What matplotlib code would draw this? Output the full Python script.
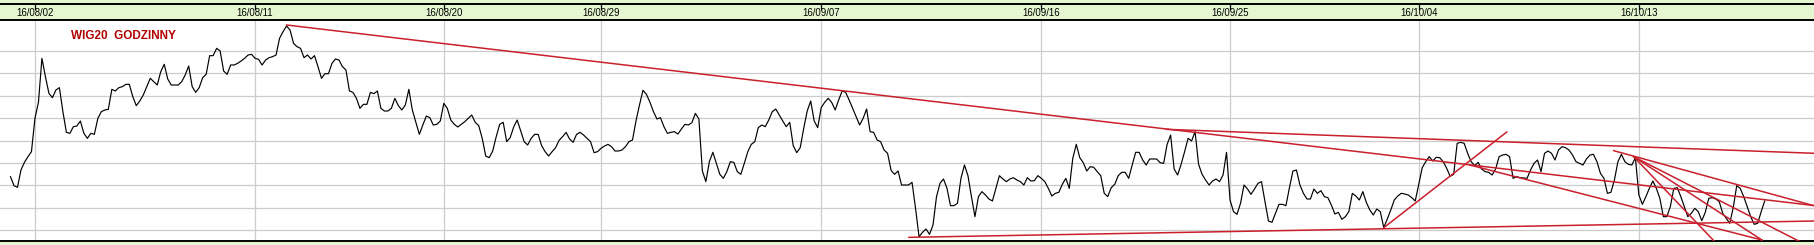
import numpy as np
import matplotlib.pyplot as plt
from matplotlib.lines import Line2D

plt.rcParams['font.family'] = ['Liberation Sans', 'DejaVu Sans']

# hourly WIG20 closes, chart units (one value per hourly bar, 9 bars per session)
wig20 = [
    193, 166, 161, 213, 236, 253, 268, 368, 416, 548,
    493, 443, 430, 453, 460, 388, 326, 323, 343, 345,
    360, 323, 308, 323, 320, 368, 388, 393, 395, 455,
    450, 460, 463, 470, 470, 433, 406, 420, 438, 463,
    488, 478, 468, 508, 530, 486, 468, 468, 468, 478,
    498, 525, 463, 446, 460, 490, 500, 556, 556, 578,
    570, 510, 500, 528, 528, 533, 540, 548, 558, 560,
    548, 545, 528, 543, 550, 553, 558, 608, 628, 645,
    633, 593, 583, 578, 550, 558, 546, 556, 523, 488,
    502, 502, 533, 546, 543, 523, 513, 450, 446, 428,
    398, 410, 410, 446, 442, 450, 398, 390, 390, 398,
    428, 406, 393, 408, 455, 393, 356, 320, 348, 375,
    370, 348, 350, 360, 413, 398, 363, 350, 342, 350,
    358, 368, 378, 356, 346, 308, 255, 250, 270, 313,
    350, 356, 298, 310, 342, 363, 330, 298, 288, 308,
    320, 320, 286, 268, 255, 268, 280, 302, 313, 326,
    306, 296, 320, 326, 318, 308, 298, 265, 268, 278,
    285, 290, 283, 270, 270, 273, 283, 298, 303, 360,
    408, 452, 440, 416, 388, 366, 370, 343, 323, 326,
    328, 321, 336, 350, 348, 355, 383, 366, 210, 178,
    238, 266, 233, 200, 188, 208, 238, 236, 208, 200,
    233, 268, 290, 298, 340, 348, 343, 363, 388, 396,
    378, 360, 343, 356, 286, 265, 280, 338, 390, 420,
    360, 340, 400, 416, 428, 416, 393, 423, 450, 446,
    423, 398, 373, 348, 368, 396, 328, 326, 303, 298,
    273, 263, 212, 200, 210, 168, 168, 168, 176, 98,
    13, 26, 36, 20, 48, 133, 173, 186, 158, 106,
    106, 113, 188, 228, 196, 133, 73, 133, 148, 138,
    126, 120, 158, 196, 186, 178, 186, 190, 183, 178,
    168, 190, 180, 181, 196, 188, 178, 158, 135, 143,
    146, 170, 188, 158, 248, 290, 250, 235, 210, 223,
    221, 208, 196, 143, 133, 160, 170, 196, 206, 206,
    188, 228, 266, 266, 243, 228, 246, 246, 246, 235,
    233, 290, 318, 216, 198, 230, 268, 308, 300, 328,
    230, 200, 183, 168, 180, 186, 178, 198, 266, 123,
    88, 80, 113, 168, 156, 140, 156, 173, 178, 118,
    60, 56, 83, 110, 110, 106, 160, 210, 213, 168,
    143, 126, 126, 156, 143, 151, 133, 130, 108, 81,
    86, 65, 73, 88, 143, 135, 123, 148, 116, 93,
    78, 96, 88, 40, 66, 93, 123, 135, 143, 141,
    138, 130, 120, 170, 220, 238, 253, 240, 251, 250,
    238, 218, 194, 200, 293, 296, 293, 263, 238, 226,
    236, 216, 208, 206, 198, 216, 253, 258, 260, 253,
    188, 193, 190, 189, 188, 213, 233, 243, 208, 263,
    270, 263, 243, 273, 283, 280, 273, 258, 238, 233,
    228, 246, 258, 260, 238, 203, 188, 143, 146, 183,
    238, 260, 238, 230, 228, 250, 138, 110, 133, 158,
    180, 158, 128, 73, 73, 103, 158, 160, 133, 103,
    73, 83, 98, 88, 61, 86, 128, 130, 126, 118,
    83, 68, 53, 100, 166, 158, 133, 103, 73, 50,
    53, 88, 120,
]

tick_labels = ['16/08/02', '16/08/11', '16/08/20', '16/08/29', '16/09/07',
               '16/09/16', '16/09/25', '16/10/04', '16/10/13']
tick_bars = [7, 70, 124, 169, 232, 295, 349, 403, 466]

# hand drawn trend lines: (bar start, level start, bar end, level end)
trend_lines = [
    (79, 648, 516.4, 106),
    (330.8, 335, 516.4, 263),
    (257.1, 11, 516.4, 60),
    (393, 40, 428.2, 327),
    (417.6, 228, 501.2, 3),
    (458.8, 271, 516.4, 105),
    (464.5, 253, 487.7, -2),
    (464.5, 253, 501.2, 3),
    (464.5, 253, 512.1, -2),
]

W, H = 1815, 245
strip = '#e4f7d0'
red = '#c8202c'

fig = plt.figure(figsize=(W / 100, H / 100), dpi=100, facecolor=strip)
ax = fig.add_axes([0, 4 / H, 1, 221 / H])
ax.set_facecolor('white')

x = np.arange(len(wig20))
ax.plot(x, wig20, color='black', lw=0.85, zorder=3)

for b0, v0, b1, v1 in trend_lines:
    ax.plot([b0, b1], [v0, v1], color=red, lw=1.1, zorder=4)

ax.set_xlim(-3.0, 516.4)
ax.set_ylim(0, 663)

ax.set_xticks(tick_bars)
ax.set_yticks(np.linspace(32, 571, 9))
ax.grid(True, color='#cccccc', lw=0.9, zorder=0)
ax.tick_params(length=0, labelbottom=False, labelleft=False)
for s in ['left', 'right']:
    ax.spines[s].set_visible(False)
for s in ['top', 'bottom']:
    ax.spines[s].set_linewidth(1.4)

# date labels in the green strip above the plot
tr = ax.get_xaxis_transform()
for b, lab in zip(tick_bars, tick_labels):
    ax.text(b, 1.032, lab, transform=tr, ha='center', va='center',
            fontsize=6.9, clip_on=False)
    ax.plot([b, b], [1.052, 1.073], transform=tr, color='black', lw=0.9,
            clip_on=False)

fig.add_artist(Line2D([0, 1], [1 - 4 / H, 1 - 4 / H], color='black', lw=1.4))

ax.text(0.039, 0.928, 'WIG20  GODZINNY', transform=ax.transAxes,
        color='#b00000', fontsize=8.5, fontweight='bold', va='center', ha='left')

fig.savefig('out.png', dpi=100, facecolor=strip)
